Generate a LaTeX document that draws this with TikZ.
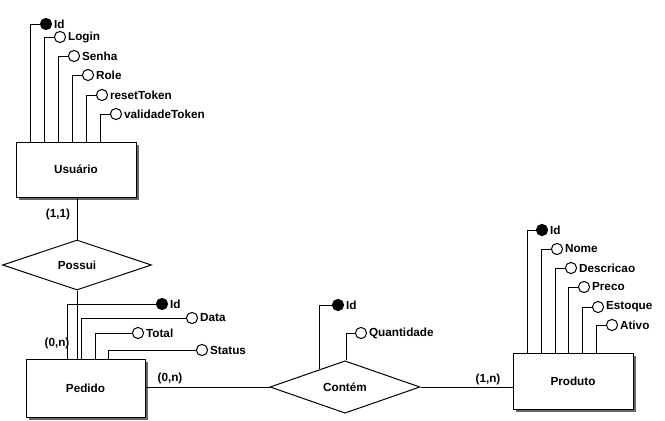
\documentclass[tikz,border=0pt]{standalone}
\usepackage{fontspec}
\setmainfont{Liberation Sans}
\usetikzlibrary{shapes.geometric,shadows,calc}
\tikzset{
  every node/.style={font=\bfseries\fontsize{8.8pt}{10pt}\selectfont},
  entity/.style={draw, line width=0.75pt, fill=white, minimum width=90pt, minimum height=42pt, inner sep=0pt,
    drop shadow={shadow xshift=1.9pt, shadow yshift=-1.9pt, fill=black!60, opacity=1}},
  rel/.style={draw, line width=0.75pt, diamond, fill=white, inner sep=0pt, minimum width=112.5pt, minimum height=37.5pt},
  attr/.style={draw, line width=0.75pt, circle, fill=white, inner sep=0pt, minimum size=8.4pt},
  keyattr/.style={attr, fill=black},
  lbl/.style={anchor=west, inner sep=1.3pt},
  card/.style={inner sep=0pt},
  conn/.style={line width=0.75pt}
}
\newcommand\attrto[3]{\draw[conn] (#1.west) -| ([xshift=#3*0.75pt]#2.north west);}
\begin{document}
\begin{tikzpicture}[x=0.75pt,y=-0.75pt]
\useasboundingbox (0,0) rectangle (665,421);
% entities
\node[entity, minimum width=90pt, minimum height=41.25pt] (U) at (76,169.5) {Usuário};
\node[entity, minimum width=89.25pt, minimum height=43.5pt] (Pe) at (85.5,388) {Pedido};
\node[entity, minimum width=90pt, minimum height=42pt] (Pr) at (573,381) {Produto};
% relationships
\node[rel, minimum width=111.75pt] (Po) at (77,265) {Possui};
\node[rel] (C) at (345,387) {Contém};
% connectors between entities and relationships
\draw[conn] (Po.north) -- (Po.north |- U.south);
\draw[conn] (Po.south) -- (Po.south |- Pe.north);
\draw[conn] (C.west) -- (C.west -| Pe.east);
\draw[conn] (C.east) -- (C.east -| Pr.west);
% cardinalities
\node[card] (c11) at (58,214) {(1,1)};
\node[card] (c0n) at (57,343) {(0,n)};
\node[card] (c0n2) at (170,378) {(0,n)};
\node[card] (c1n) at (488,379) {(1,n)};
% Usuario attributes
\node[keyattr] (u1) at (46,24) {}; \node[lbl] (u1l) at (u1.east) {Id};
\node[attr] (u2) at (60,37) {}; \node[lbl] (u2l) at (u2.east) {Login};
\node[attr] (u3) at (74,56) {}; \node[lbl] (u3l) at (u3.east) {Senha};
\node[attr] (u4) at (88,75) {}; \node[lbl] (u4l) at (u4.east) {Role};
\node[attr] (u5) at (102,95) {}; \node[lbl] (u5l) at (u5.east) {resetToken};
\node[attr] (u6) at (116,114) {}; \node[lbl] (u6l) at (u6.east) {validadeToken};
\attrto{u1}{U}{15}
\attrto{u2}{U}{29}
\attrto{u3}{U}{43}
\attrto{u4}{U}{57}
\attrto{u5}{U}{71}
\attrto{u6}{U}{85}
% Pedido attributes
\node[keyattr] (p1) at (162,304) {}; \node[lbl] (p1l) at (p1.east) {Id};
\node[attr] (p2) at (192,318) {}; \node[lbl] (p2l) at (p2.east) {Data};
\node[attr] (p3) at (138,333) {}; \node[lbl] (p3l) at (p3.east) {Total};
\node[attr] (p4) at (202,350) {}; \node[lbl] (p4l) at (p4.east) {Status};
\attrto{p1}{Pe}{42}
\attrto{p2}{Pe}{56}
\attrto{p3}{Pe}{70}
\attrto{p4}{Pe}{83}
% Produto attributes
\node[keyattr] (r1) at (542,230) {}; \node[lbl] (r1l) at (r1.east) {Id};
\node[attr] (r2) at (557,249) {}; \node[lbl] (r2l) at (r2.east) {Nome};
\node[attr] (r3) at (571,268) {}; \node[lbl] (r3l) at (r3.east) {Descricao};
\node[attr] (r4) at (584,287) {}; \node[lbl] (r4l) at (r4.east) {Preco};
\node[attr] (r5) at (598,307) {}; \node[lbl] (r5l) at (r5.east) {Estoque};
\node[attr] (r6) at (612,325) {}; \node[lbl] (r6l) at (r6.east) {Ativo};
\attrto{r1}{Pr}{15}
\attrto{r2}{Pr}{29}
\attrto{r3}{Pr}{43}
\attrto{r4}{Pr}{56}
\attrto{r5}{Pr}{70}
\attrto{r6}{Pr}{84}
% Contem attributes
\node[keyattr] (k1) at (338,305) {}; \node[lbl] (k1l) at (k1.east) {Id};
\node[attr] (k2) at (361,333) {}; \node[lbl] (k2l) at (k2.east) {Quantidade};
\draw[conn] (k1.west) -| ($(C.west)!0.6667!(C.north)$);
\draw[conn] (k2.west) -| ([xshift=0.75pt]C.north);
\end{tikzpicture}
\end{document}
